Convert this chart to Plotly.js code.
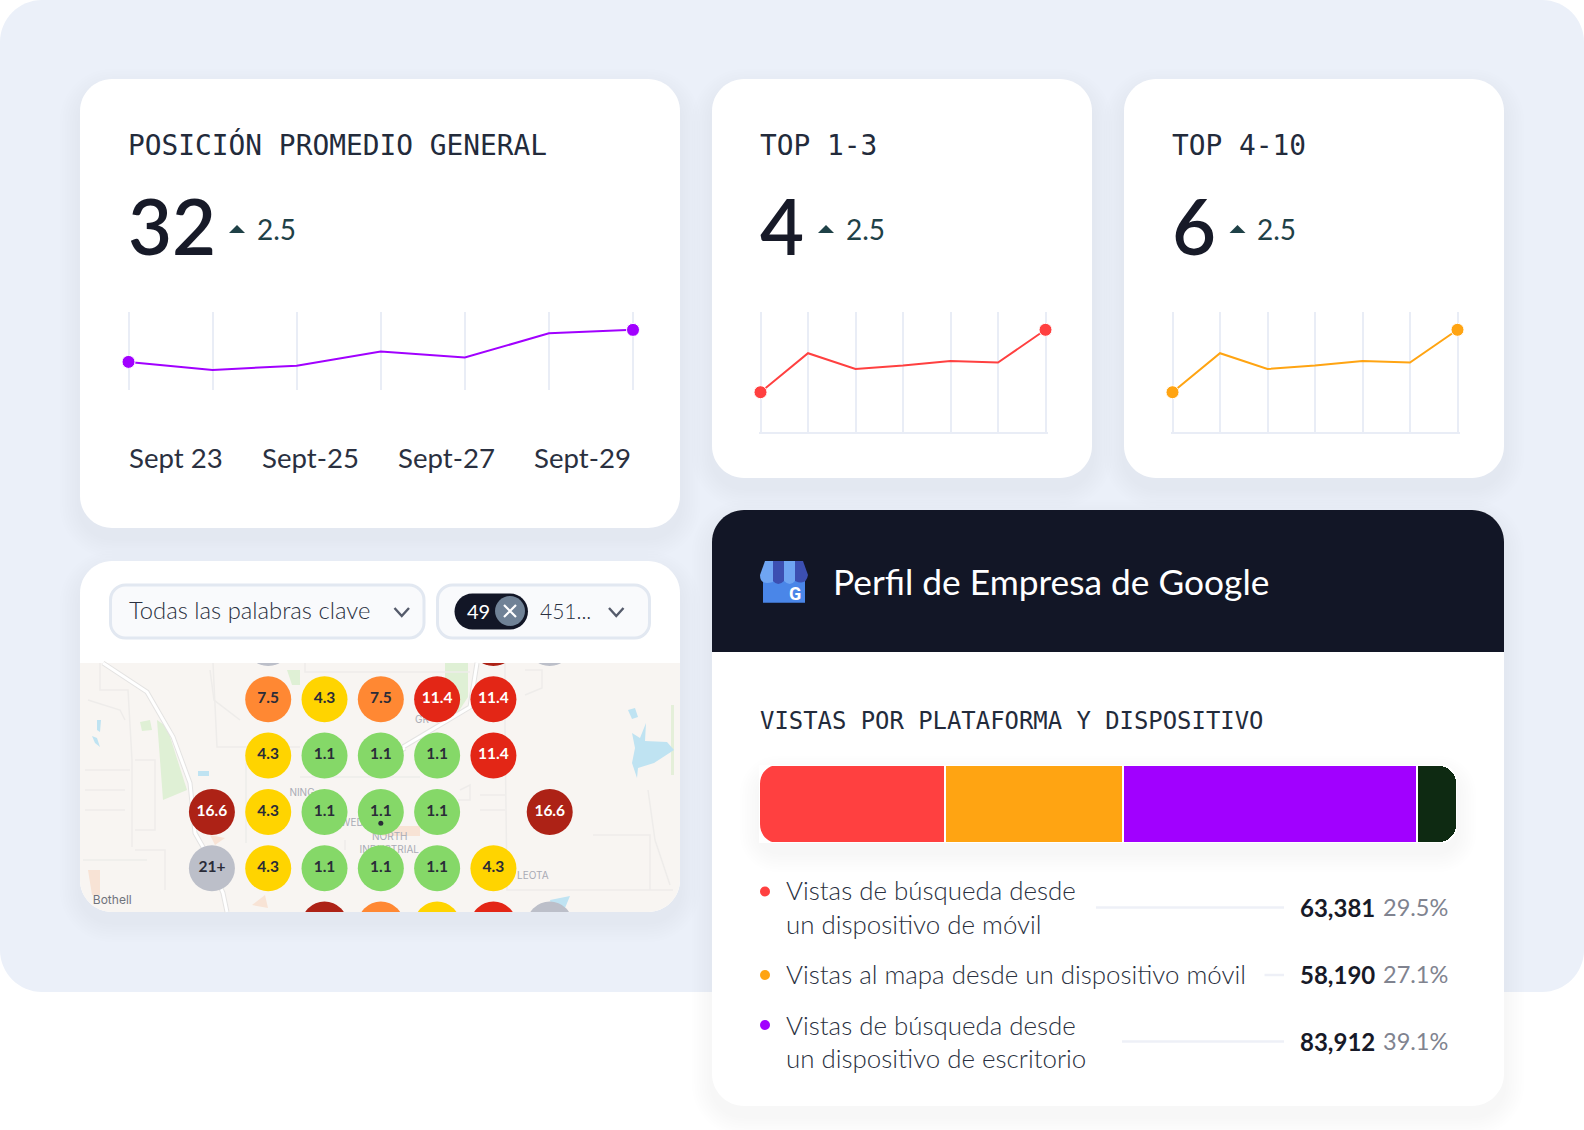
<!DOCTYPE html>
<html>
<head>
<meta charset="utf-8">
<script src="https://cdn.plot.ly/plotly-3.0.1.min.js"></script>
<style>
  html, body { margin: 0; padding: 0; background: #fff; }
</style>
</head>
<body>
<div id="graph" style="width:1584px;height:1130px"></div>
<script>
// chart values
const positionValues = [35.8, 25.5, 31.0, 48.9, 41.3, 72.3, 76.6];
const topOneValues = [33.4, 65.6, 52.6, 55.4, 59.2, 57.9, 84.9];
const topFourValues = [33.4, 65.6, 52.6, 55.4, 59.2, 57.9, 84.9];
const dayLabels = ['Sept 23', 'Sept-25', 'Sept-27', 'Sept-29'];
const dayLabelLeft = [128.5, 261.5, 397.5, 533.5];

const bubbleCols = [1, 5, 6,
    1, 2, 3, 4, 5,
    1, 2, 3, 4, 5,
    0, 1, 2, 3, 4, 6,
    0, 1, 2, 3, 4, 5,
    2, 3, 4, 5, 6];
const bubbleRows = [0, 0, 0,
    1, 1, 1, 1, 1,
    2, 2, 2, 2, 2,
    3, 3, 3, 3, 3, 3,
    4, 4, 4, 4, 4, 4,
    5, 5, 5, 5, 5];
const bubbleLabels = ['21+', '16.6', '21+',
    '7.5', '4.3', '7.5', '11.4', '11.4',
    '4.3', '1.1', '1.1', '1.1', '11.4',
    '16.6', '4.3', '1.1', '1.1', '1.1', '16.6',
    '21+', '4.3', '1.1', '1.1', '1.1', '4.3',
    '16.6', '7.5', '4.3', '11.4', '21+'];

const mapNames = ['NING', 'WED', 'NORTH', 'INDUSTRIAL', 'LEOTA', 'GR', 'Bothell'];
const mapNameCols = [1.6, 2.49, 3.16, 3.15, 5.7, 3.73, -1.77];
const mapNameRows = [2.68, 3.2, 3.46, 3.68, 4.14, 1.37, 4.58];

const barNames = ['Móvil búsqueda', 'Móvil mapa', 'Escritorio búsqueda', 'Escritorio mapa'];
const barShares = [26.6, 25.5, 42.2, 5.7];

const legendLines = [
    ['Vistas de búsqueda desde', 'un dispositivo de móvil'],
    ['Vistas al mapa desde un dispositivo móvil'],
    ['Vistas de búsqueda desde', 'un dispositivo de escritorio']
];
const legendNumbers = ['63,381', '58,190', '83,912'];
const legendPercents = ['29.5%', '27.1%', '39.1%'];

const RED = '#ff4040';
const ORANGE = '#ffa412';
const PURPLE = '#a100ff';
const DARK_GREEN = '#0e2a12';
const NAVY = '#121626';
const GRID = '#e9edf6';
const BODY_FONT = 'Lato, sans-serif';
const MONO_FONT = '"DejaVu Sans Mono", monospace';

const bubbleColors = {
    '1.1': '#85d868', '4.3': '#ffd400', '7.5': '#ff8833',
    '11.4': '#e32616', '16.6': '#ad2216', '21+': '#bcbfc9'
};

const PAGE_W = 1584;
const PAGE_H = 1130;

function domainX(left, right) {
    return [left / PAGE_W, right / PAGE_W];
}

function domainY(top, bottom) {
    return [1 - bottom / PAGE_H, 1 - top / PAGE_H];
}

// rounded rectangle path, page pixels
function roundedPath(x0, y0, x1, y1, rTop, rBottom) {
    const k = 0.45;
    const t = rTop * k;
    const b = rBottom * k;
    return `M ${x0 + rTop} ${y0} L ${x1 - rTop} ${y0} ` +
        `C ${x1 - t} ${y0} ${x1} ${y0 + t} ${x1} ${y0 + rTop} ` +
        `L ${x1} ${y1 - rBottom} ` +
        `C ${x1} ${y1 - b} ${x1 - b} ${y1} ${x1 - rBottom} ${y1} ` +
        `L ${x0 + rBottom} ${y1} ` +
        `C ${x0 + b} ${y1} ${x0} ${y1 - b} ${x0} ${y1 - rBottom} ` +
        `L ${x0} ${y0 + rTop} ` +
        `C ${x0} ${y0 + t} ${x0 + t} ${y0} ${x0 + rTop} ${y0} Z`;
}

const shapes = [];
const annotations = [];

function fillShape(path, color) {
    shapes.push({type: 'path', xref: 'x', yref: 'y', layer: 'below', path: path, fillcolor: color, line: {width: 0}});
}

function strokeShape(path, color, width) {
    shapes.push({type: 'path', xref: 'x', yref: 'y', layer: 'below', path: path, line: {color: color, width: width}});
}

function softShadow(x0, y0, x1, y1, r) {
    for (let i = 1; i <= 8; i++) {
        const e = i * 2.5;
        fillShape(roundedPath(x0 - e, y0 - e + 10, x1 + e, y1 + e + 10, r + e, r + e), 'rgba(90,110,160,0.008)');
    }
}

function card(x0, y0, x1, y1) {
    softShadow(x0, y0, x1, y1, 32);
    fillShape(roundedPath(x0, y0, x1, y1, 32, 32), '#ffffff');
}

function label(text, x, y, size, color, family, options) {
    annotations.push(Object.assign({
        text: text, x: x, y: y, xref: 'x', yref: 'y',
        xanchor: 'left', yanchor: 'middle', showarrow: false,
        borderpad: 0, borderwidth: 0,
        font: Object.assign({size: size, color: color, family: family}, (options || {}).font)
    }, options && options.anchor ? {xanchor: options.anchor} : {}));
}

function chevron(x0, x1, y0, y1) {
    strokeShape(`M ${x0} ${y0} L ${(x0 + x1) / 2} ${y1} L ${x1} ${y0}`, '#555b6b', 2.4);
}

function statBlock(titleText, x, bigText, triangleX, deltaX) {
    label(titleText, x - 1, 145, 27.85, '#232b3b', MONO_FONT);
    label(bigText, x - 1, 225, 76, '#171a28', BODY_FONT, {font: {weight: 600}});
    fillShape(`M ${triangleX} 233 L ${triangleX + 8} 225 L ${triangleX + 16} 233 Z`, '#1f4147');
    label('2.5', deltaX, 229, 28, '#1f4147', BODY_FONT);
}

// page background
fillShape(roundedPath(0, 0, 1584, 992, 42, 42), '#ebf0f9');

// stat cards
card(80, 79, 680, 528);
card(712, 79, 1092, 478);
card(1124, 79, 1504, 478);
statBlock('POSICIÓN PROMEDIO GENERAL', 129, '32', 229, 257);
statBlock('TOP 1-3', 761, '4', 818, 845.5);
statBlock('TOP 4-10', 1172.5, '6', 1229.5, 1257);
dayLabels.forEach((day, i) => label(day, dayLabelLeft[i], 457, 27.6, '#2a3040', BODY_FONT));

// map card
card(80, 561, 680, 912);
fillShape(roundedPath(110.5, 585, 424, 638, 15, 15), '#f9fafc');
strokeShape(roundedPath(110.5, 585, 424, 638, 15, 15), '#e2e8f1', 3);
fillShape(roundedPath(437.5, 585, 649.5, 638, 15, 15), '#f9fafc');
strokeShape(roundedPath(437.5, 585, 649.5, 638, 15, 15), '#e2e8f1', 3);
label('Todas las palabras clave', 128.5, 610, 23.8, '#2a3040', BODY_FONT, {font: {weight: 300}});
chevron(394.5, 409, 608, 616);
fillShape(roundedPath(454.5, 593.5, 528, 629.5, 18, 18), NAVY);
fillShape(roundedPath(495, 596, 525, 626, 15, 15), '#708296');
strokeShape('M 504 605 L 516 617 M 516 605 L 504 617', '#ffffff', 2.2);
label('49', 466.5, 610.5, 20, '#ffffff', BODY_FONT);
label('451...', 540, 610.5, 21, '#2a3040', BODY_FONT, {font: {weight: 300}});
chevron(609, 623.5, 608, 616);

// map base
fillShape(roundedPath(80, 663, 680, 912, 0, 32), '#f8f5f2');
fillShape('M 157 720 L 167 727 L 187 790 L 163 800 L 160 760 Z', '#dff0d5');
fillShape('M 445 663 L 468 663 L 468 697 L 455 717 L 445 700 Z', '#dff0d5');
fillShape('M 287 670 L 300 670 L 300 685 L 292 685 Z', '#dff0d5');
fillShape('M 140 722 L 150 720 L 152 730 L 142 731 Z', '#dff0d5');
fillShape('M 671 705 L 674 705 L 674 775 L 671 775 Z', '#e4efd9');
fillShape('M 632 733 L 640 738 L 646 723 L 645 741 L 667 742 L 674 750 L 654 763 L 638 768 L 637 778 L 632 763 L 635 748 Z', '#bfe3f2');
fillShape('M 628 710 L 635 708 L 638 717 L 632 719 Z', '#bfe3f2');
fillShape('M 198 771 L 209 771 L 209 776 L 198 776 Z', '#bfe3f2');
fillShape('M 97 720 L 101 720 L 100 732 L 97 730 Z', '#bfe3f2');
fillShape('M 92 736 L 97 738 L 100 747 L 95 743 Z', '#bfe3f2');
fillShape('M 550 900 L 570 896 L 565 908 L 552 908 Z', '#bfe3f2');
fillShape('M 382 826 L 420 826 L 420 836 L 382 836 Z', '#f8e3d5');
fillShape('M 88 870 L 100 870 L 100 895 L 92 895 Z', '#f8e3d5');
fillShape('M 210 835 L 225 838 L 215 845 Z', '#f8e3d5');
fillShape('M 252 905 L 265 895 L 268 908 Z', '#f8e3d5');
const majorRoads = [
    'M 103 663 L 147 692 L 173 737 L 190 783 L 195 833 L 203 847 L 223 893 L 227 912',
    'M 477 663 L 470 707 L 403 747',
    'M 405 748 L 380 763'
];
const minorRoads = [
    'M 100 663 L 100 690 L 128 690 L 132 760 L 132 847',
    'M 213 663 L 217 747 L 300 747',
    'M 83 860 L 147 860',
    'M 246 760 L 246 843',
    'M 305 663 L 305 672 L 470 672',
    'M 505 663 L 505 727 L 507 890 L 673 890',
    'M 593 835 L 650 835 L 650 890',
    'M 300 777 L 420 777',
    'M 320 847 L 320 880 M 345 840 L 345 850',
    'M 210 670 L 214 700 L 240 720',
    'M 88 700 L 120 710 L 125 720',
    'M 85 770 L 130 770 M 85 790 L 125 790 M 85 810 L 125 810',
    'M 135 760 L 155 760 L 155 830 L 135 830',
    'M 135 850 L 165 850 L 165 890',
    'M 460 790 L 470 785 L 470 800 L 458 800',
    'M 480 795 L 505 795 M 480 810 L 505 810',
    'M 525 670 L 542 670 L 542 688 L 525 695',
    'M 648 790 L 655 840 L 670 885'
];
minorRoads.forEach(path => strokeShape(path, '#eeecea', 1.5));
majorRoads.forEach(path => strokeShape(path, '#e4e3e2', 5));
majorRoads.forEach(path => strokeShape(path, '#ffffff', 3));

// Google card
softShadow(712, 510, 1504, 1106, 32);
fillShape(roundedPath(712, 510, 1504, 1106, 32, 32), '#ffffff');
fillShape(roundedPath(712, 510, 1504, 652, 32, 0), NAVY);
fillShape('M 763 575 L 805 575 L 805 602.7 L 763 602.7 Z', '#4a86e8');
fillShape('M 765 561 L 773 561 L 773 582 Q 760 586 760 575 Z', '#6fa5f2');
fillShape('M 773 561 L 784 561 L 784 581 Q 778 587 773 581 Z', '#3c4fb1');
fillShape('M 784 561 L 795 561 L 795 581 Q 790 587 784 581 Z', '#6fa5f2');
fillShape('M 795 561 L 803 561 L 808 575 Q 806 586 795 581 Z', '#3c4fb1');
label('G', 795, 593, 18, '#ffffff', 'Roboto, sans-serif', {anchor: 'center', font: {weight: 700}});
label('Perfil de Empresa de Google', 833, 581, 35.3, '#ffffff', BODY_FONT);
label('VISTAS POR PLATAFORMA Y DISPOSITIVO', 760, 721, 23.9, '#232b3b', MONO_FONT);
softShadow(760, 766, 1456, 842, 18);

const legendColors = [RED, ORANGE, PURPLE];
const legendLineY = [[890, 924], [974], [1025, 1058]];
const legendDotY = [891.5, 975, 1025];
const legendRowY = [907, 974, 1041];
const leaderX = [1096, 1264.5, 1122];
const leaderY = [907.5, 975, 1041.5];
legendLines.forEach((lines, row) => {
    lines.forEach((line, i) => label(line, 786, legendLineY[row][i], 25.9, '#2a3040', BODY_FONT, {font: {weight: 300}}));
    strokeShape(`M ${leaderX[row]} ${leaderY[row]} L 1284 ${leaderY[row]}`, '#eef0f7', 2.5);
    label(legendNumbers[row], 1375, legendRowY[row], 24, '#171a28', BODY_FONT, {anchor: 'right', font: {weight: 700}});
    label(legendPercents[row], 1448, legendRowY[row], 23.5, '#80838f', BODY_FONT, {anchor: 'right'});
});

function lineTrace(values, color, axisNumber) {
    return {
        x: values.map((v, i) => i),
        y: values,
        xaxis: 'x' + axisNumber,
        yaxis: 'y' + axisNumber,
        mode: 'lines+markers',
        line: {color: color, width: 2},
        marker: {color: color, opacity: 1, size: values.map((v, i) => (i === 0 || i === values.length - 1) ? 13 : 0)},
        cliponaxis: false,
        showlegend: false,
        hoverinfo: 'skip'
    };
}

const traces = [
    {
        x: legendColors.map(() => 765),
        y: legendDotY,
        xaxis: 'x',
        yaxis: 'y',
        mode: 'markers',
        marker: {color: legendColors, size: 10, opacity: 1},
        showlegend: false,
        hoverinfo: 'skip'
    },
    lineTrace(positionValues, PURPLE, 2),
    lineTrace(topOneValues, RED, 3),
    lineTrace(topFourValues, ORANGE, 4),
    {
        x: mapNameCols,
        y: mapNameRows,
        text: mapNames,
        xaxis: 'x5',
        yaxis: 'y5',
        mode: 'text',
        textfont: {size: mapNames.map(n => n === 'Bothell' ? 12 : 10), color: mapNames.map(n => n === 'Bothell' ? '#70737c' : '#a9abb5'), family: 'Inter, sans-serif'},
        showlegend: false,
        hoverinfo: 'skip'
    },
    {
        x: bubbleCols,
        y: bubbleRows,
        text: bubbleLabels,
        xaxis: 'x5',
        yaxis: 'y5',
        mode: 'markers+text',
        textposition: 'middle center',
        marker: {color: bubbleLabels.map(v => bubbleColors[v]), size: 46, opacity: 1, line: {width: 0}},
        textfont: {
            size: 15.5,
            family: BODY_FONT,
            weight: 700,
            color: bubbleLabels.map(v => (v === '11.4' || v === '16.6') ? '#ffffff' : '#2a2c38')
        },
        showlegend: false,
        hoverinfo: 'skip'
    },
    {
        x: [3],
        y: [3.2],
        xaxis: 'x5',
        yaxis: 'y5',
        mode: 'markers',
        marker: {color: '#2a2c38', size: 5},
        showlegend: false,
        hoverinfo: 'skip'
    }
];

const barColors = [RED, ORANGE, PURPLE, DARK_GREEN];
barShares.forEach((share, i) => {
    traces.push({
        type: 'bar',
        orientation: 'h',
        name: barNames[i],
        x: [share],
        y: ['vistas'],
        xaxis: 'x6',
        yaxis: 'y6',
        marker: {color: barColors[i], line: {color: '#ffffff', width: 2}},
        showlegend: false,
        hoverinfo: 'skip'
    });
});

// plotly only rounds the far end of a stack, so the near end gets white corners
shapes.push({
    type: 'path', xref: 'x', yref: 'y', layer: 'above', line: {width: 0}, fillcolor: '#ffffff',
    path: 'M 759 765 L 778 765 C 768 765 760 773 760 784 Z M 759 843 L 778 843 C 768 843 760 835 760 824 Z'
});

const hiddenAxis = {visible: false, fixedrange: true};

// 2px of slack each side, plotly drops gridlines sitting right on the axis ends
function sparkAxisX(left, right) {
    const slack = 2 / ((right - left) / 6);
    return {
        domain: domainX(left - 2, right + 2),
        range: [-slack, 6 + slack],
        dtick: 1,
        tick0: 0,
        showgrid: true,
        gridcolor: GRID,
        gridwidth: 2,
        zeroline: false,
        showline: false,
        ticks: '',
        showticklabels: false,
        fixedrange: true
    };
}

function sparkAxisY(top, bottom, withBaseline) {
    return {
        domain: domainY(top, bottom),
        range: [0, 100],
        showgrid: false,
        showticklabels: false,
        ticks: '',
        zeroline: withBaseline,
        zerolinecolor: GRID,
        zerolinewidth: 2,
        showline: false,
        fixedrange: true
    };
}

const layout = {
    width: PAGE_W,
    height: PAGE_H,
    margin: {l: 0, r: 0, t: 0, b: 0},
    paper_bgcolor: '#ffffff',
    plot_bgcolor: 'rgba(0,0,0,0)',
    showlegend: false,
    barmode: 'stack',
    bargap: 0,
    barcornerradius: 18,
    shapes: shapes,
    annotations: annotations,

    xaxis: Object.assign({domain: [0, 1], range: [0, PAGE_W]}, hiddenAxis),
    yaxis: Object.assign({domain: [0, 1], range: [PAGE_H, 0]}, hiddenAxis),

    xaxis2: Object.assign(sparkAxisX(128.5, 633), {anchor: 'y2'}),
    yaxis2: Object.assign(sparkAxisY(311.5, 390, false), {anchor: 'x2'}),
    xaxis3: Object.assign(sparkAxisX(760.5, 1045.5), {anchor: 'y3'}),
    yaxis3: Object.assign(sparkAxisY(311.5, 432.7, true), {anchor: 'x3'}),
    xaxis4: Object.assign(sparkAxisX(1172.5, 1457.5), {anchor: 'y4'}),
    yaxis4: Object.assign(sparkAxisY(311.5, 432.7, true), {anchor: 'x4'}),

    xaxis5: Object.assign({domain: domainX(80, 680), range: [-2.343, 8.314], anchor: 'y5'}, hiddenAxis),
    yaxis5: Object.assign({domain: domainY(663, 912), range: [4.778, 0.355], anchor: 'x5'}, hiddenAxis),

    xaxis6: Object.assign({domain: domainX(759, 1457), range: [0, 100], anchor: 'y6'}, hiddenAxis),
    yaxis6: Object.assign({domain: domainY(765, 843), anchor: 'x6'}, hiddenAxis)
};

Plotly.newPlot('graph', traces, layout, {staticPlot: true, displayModeBar: false});
</script>
</body>
</html>
